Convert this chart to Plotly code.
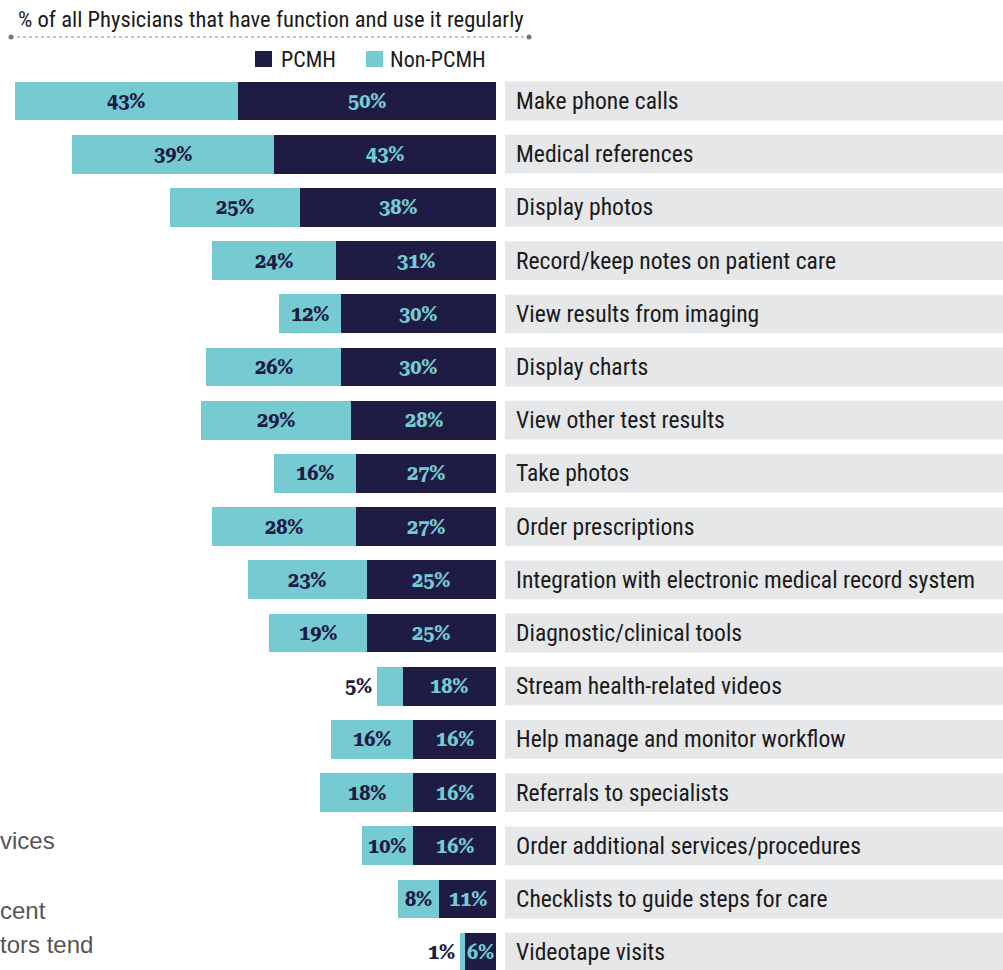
import plotly.graph_objects as go

categories = [
    "Make phone calls", "Medical references", "Display photos",
    "Record/keep notes on patient care", "View results from imaging",
    "Display charts", "View other test results", "Take photos",
    "Order prescriptions", "Integration with electronic medical record system",
    "Diagnostic/clinical tools", "Stream health-related videos",
    "Help manage and monitor workflow", "Referrals to specialists",
    "Order additional services/procedures", "Checklists to guide steps for care",
    "Videotape visits",
]
pcmh = [50, 43, 38, 31, 30, 30, 28, 27, 27, 25, 25, 18, 16, 16, 16, 11, 6]
non_pcmh = [43, 39, 25, 24, 12, 26, 29, 16, 28, 23, 19, 5, 16, 18, 10, 8, 1]
series_names = ["PCMH", "Non-PCMH"]
title_text = "% of all Physicians that have function and use it regularly"
side_fragments = ["vices", "cent", "tors tend"]

NAVY = "#1e1c44"
TEAL = "#76cbd3"
GREY_BG = "#e6e7e9"
W, H = 1003, 970
ZERO_PX = 496
PX_PER = 5.17
ROW0_PX = 101
ROW_PX = 53.2

LABEL_FONT = "Roboto Condensed, Liberation Sans Narrow, Arial Narrow, sans-serif"
NUM_FONT = "Roboto Serif, DejaVu Serif Condensed, Liberation Serif, serif"

ypos = list(range(len(categories)))

fig = go.Figure()
fig.add_trace(go.Bar(
    name=series_names[0], y=ypos, x=pcmh, orientation="h",
    marker=dict(color=NAVY, line=dict(width=0)),
    width=0.73, hoverinfo="skip", showlegend=False,
))
fig.add_trace(go.Bar(
    name=series_names[1], y=ypos, x=non_pcmh, orientation="h",
    marker=dict(color=TEAL, line=dict(width=0)),
    width=0.73, hoverinfo="skip", showlegend=False,
))

x_left = ZERO_PX / PX_PER
x_right = -(W - ZERO_PX) / PX_PER
y_top = -ROW0_PX / ROW_PX
y_bot = (H - ROW0_PX) / ROW_PX

shapes = []
annotations = []
num_font_navy = dict(family=NUM_FONT, size=20, color=NAVY, weight=700)
num_font_teal = dict(family=NUM_FONT, size=20, color=TEAL, weight=700)

for i, cat in enumerate(categories):
    shapes.append(dict(type="rect", xref="x", yref="y",
                       x0=-(505 - ZERO_PX) / PX_PER, x1=x_right,
                       y0=i - 0.365, y1=i + 0.365,
                       fillcolor=GREY_BG, line=dict(width=0), layer="below"))
    annotations.append(dict(xref="x", yref="y", x=-(514 - ZERO_PX) / PX_PER, y=i,
                            text=cat, showarrow=False, xanchor="left", yanchor="middle",
                            font=dict(family=LABEL_FONT, size=23.6, color="#1a1a1a")))
    p, n = pcmh[i], non_pcmh[i]
    annotations.append(dict(xref="x", yref="y", x=p / 2, y=i, text=f"{p}%",
                            showarrow=False, xanchor="center", yanchor="middle",
                            font=num_font_teal))
    if n >= 8:
        annotations.append(dict(xref="x", yref="y", x=p + n / 2, y=i, text=f"{n}%",
                                showarrow=False, xanchor="center", yanchor="middle",
                                font=num_font_navy))
    else:
        annotations.append(dict(xref="x", yref="y", x=p + n, y=i, text=f"{n}%",
                                showarrow=False, xanchor="right", yanchor="middle",
                                xshift=-3, font=num_font_navy))

# title and dotted rule
annotations.append(dict(xref="paper", yref="paper", x=16 / W, y=1 - 19 / H,
                        text=title_text, showarrow=False, xanchor="left", yanchor="middle",
                        font=dict(family=LABEL_FONT, size=22.6, color="#1a1a1a")))
shapes.append(dict(type="line", xref="paper", yref="paper",
                   x0=11 / W, x1=529 / W, y0=1 - 37 / H, y1=1 - 37 / H,
                   line=dict(color="#888888", width=1, dash="dot")))
for px in (11, 529):
    shapes.append(dict(type="circle", xref="paper", yref="paper",
                       x0=(px - 2.5) / W, x1=(px + 2.5) / W,
                       y0=1 - 39.5 / H, y1=1 - 34.5 / H,
                       fillcolor="#777777", line=dict(width=0)))

# legend (drawn manually to match square swatches)
legend_items = [(series_names[0], NAVY, 255, 279), (series_names[1], TEAL, 366, 388)]
for name, col, sq_x, tx_x in legend_items:
    shapes.append(dict(type="rect", xref="paper", yref="paper",
                       x0=sq_x / W, x1=(sq_x + 17) / W,
                       y0=1 - 67 / H, y1=1 - 51 / H,
                       fillcolor=col, line=dict(width=0)))
    annotations.append(dict(xref="paper", yref="paper", x=tx_x / W, y=1 - 59 / H,
                            text=name, showarrow=False, xanchor="left", yanchor="middle",
                            font=dict(family=LABEL_FONT, size=22, color="#1a1a1a")))

# fragments of body text at the left edge
for txt, py in zip(side_fragments, [840, 910, 944]):
    annotations.append(dict(xref="paper", yref="paper", x=0, y=1 - py / H, xshift=-2,
                            text=txt, showarrow=False, xanchor="left", yanchor="middle",
                            font=dict(family="Liberation Sans, Arial, sans-serif", size=24, color="#555555")))

fig.update_layout(
    width=W, height=H,
    margin=dict(l=0, r=0, t=0, b=0),
    paper_bgcolor="white", plot_bgcolor="white",
    barmode="stack", bargap=0,
    showlegend=False,
    xaxis=dict(range=[x_left, x_right], visible=False, fixedrange=True),
    yaxis=dict(range=[y_bot, y_top], visible=False, fixedrange=True),
    shapes=shapes, annotations=annotations,
)

fig.write_html("out.html")
